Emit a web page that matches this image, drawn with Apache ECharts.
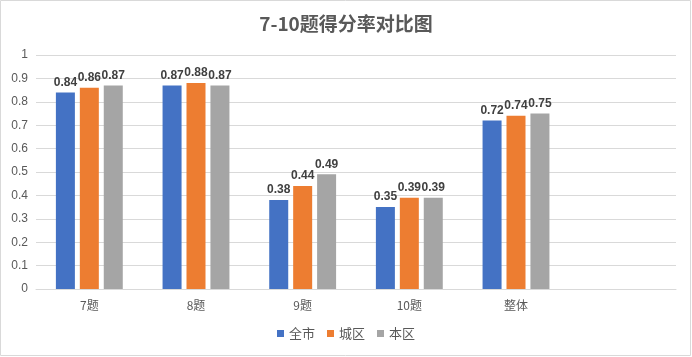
<!DOCTYPE html>
<html><head><meta charset="utf-8">
<script src="https://cdn.jsdelivr.net/npm/echarts@6/dist/echarts.min.js"></script>
<style>html,body{margin:0;padding:0;background:#fff}#c{width:692px;height:357px}</style>
</head><body><div id="c"></div>
<script>
const categories = ['7题', '8题', '9题', '10题', '整体', ''];
const seriesNames = ['全市', '城区', '本区'];
const quanshi = [0.84, 0.87, 0.38, 0.35, 0.72];
const chengqu = [0.86, 0.88, 0.44, 0.39, 0.74];
const benqu = [0.87, 0.87, 0.49, 0.39, 0.75];
const colors = ['#4472C4', '#ED7D31', '#A5A5A5'];

const chart = echarts.init(document.getElementById('c'));
const mk = (name, data, color) => ({
  name, type: 'bar', data, barWidth: 19, barGap: '26%',
  itemStyle: { color },
  label: { show: true, position: 'top', distance: 4, color: '#404040', fontSize: 12, fontWeight: 'bold',
    fontFamily: 'Liberation Sans, Arial, sans-serif', formatter: p => String(p.value) }
});
chart.setOption({
  animation: false,
  title: { text: '7-10题得分率对比图', left: 'center', top: 9,
    textStyle: { color: '#595959', fontSize: 19, fontWeight: 'bold', fontFamily: 'Noto Sans CJK SC' } },
  graphic: [{ type: 'rect', shape: { x: 0.5, y: 0.5, width: 690, height: 355 },
    style: { fill: 'none', stroke: '#d9d9d9', lineWidth: 1 }, silent: true }],
  legend: { bottom: 12, left: 'center', itemWidth: 7, itemHeight: 7, itemGap: 12,
    icon: 'rect', textStyle: { color: '#595959', fontSize: 13, fontFamily: 'Noto Sans CJK SC' } },
  grid: { left: 36, right: 16, top: 55, bottom: 68, containLabel: false },
  xAxis: { type: 'category', data: categories,
    axisLine: { lineStyle: { color: '#d9d9d9' } }, axisTick: { show: false },
    axisLabel: { color: '#595959', fontSize: 12, margin: 10, fontFamily: 'Noto Sans CJK SC' } },
  yAxis: { type: 'value', min: 0, max: 1, interval: 0.1,
    axisLabel: { color: '#595959', fontSize: 12, margin: 8, fontFamily: 'Liberation Sans, Arial, sans-serif',
      formatter: v => (Math.round(v * 10) / 10).toString() },
    splitLine: { lineStyle: { color: '#d9d9d9' } }, axisLine: { show: false } },
  series: [mk(seriesNames[0], quanshi, colors[0]), mk(seriesNames[1], chengqu, colors[1]), mk(seriesNames[2], benqu, colors[2])]
});
</script></body></html>
